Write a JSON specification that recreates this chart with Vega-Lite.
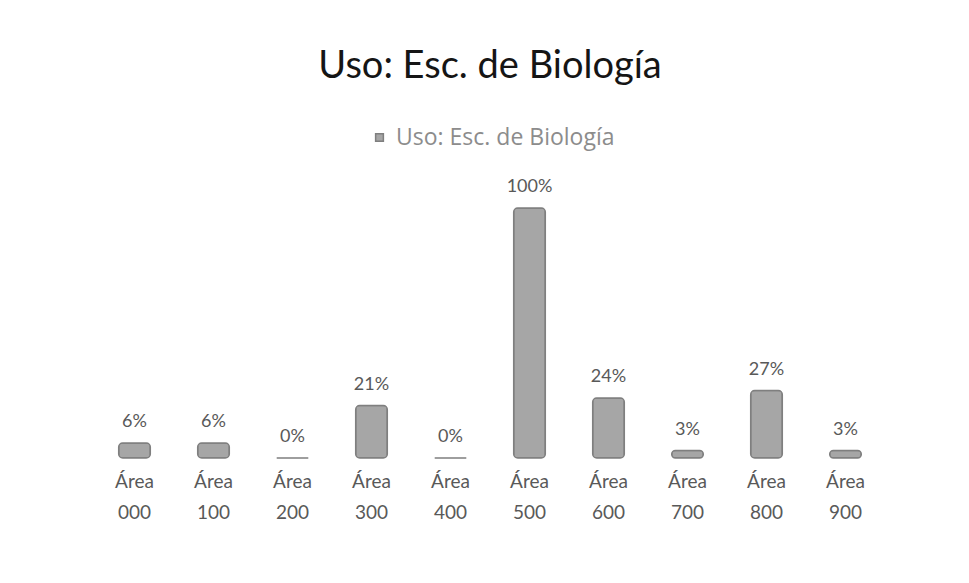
{
  "$schema": "https://vega.github.io/schema/vega-lite/v6.json",
  "autosize": "none",
  "width": 790,
  "height": 250,
  "padding": {"left": 95, "top": 208, "right": 84, "bottom": 125},
  "background": "white",
  "config": {"view": {"stroke": null}, "font": "Lato"},
  "title": {
    "text": "Uso: Esc. de Biología",
    "fontSize": 38,
    "font": "Lato",
    "fontWeight": "normal",
    "color": "#151515",
    "frame": "group",
    "anchor": "middle",
    "offset": 40
  },
  "data": {
    "values": [
      {"area": "Área 000", "valor": 0.06, "serie": "Uso: Esc. de Biología"},
      {"area": "Área 100", "valor": 0.06, "serie": "Uso: Esc. de Biología"},
      {"area": "Área 200", "valor": 0.0, "serie": "Uso: Esc. de Biología"},
      {"area": "Área 300", "valor": 0.21, "serie": "Uso: Esc. de Biología"},
      {"area": "Área 400", "valor": 0.0, "serie": "Uso: Esc. de Biología"},
      {"area": "Área 500", "valor": 1.0, "serie": "Uso: Esc. de Biología"},
      {"area": "Área 600", "valor": 0.24, "serie": "Uso: Esc. de Biología"},
      {"area": "Área 700", "valor": 0.03, "serie": "Uso: Esc. de Biología"},
      {"area": "Área 800", "valor": 0.27, "serie": "Uso: Esc. de Biología"},
      {"area": "Área 900", "valor": 0.03, "serie": "Uso: Esc. de Biología"}
    ]
  },
  "encoding": {
    "x": {
      "field": "area",
      "type": "nominal",
      "sort": null,
      "scale": {"paddingInner": 0.6, "paddingOuter": 0.3},
      "axis": {
        "title": null,
        "domain": false,
        "ticks": false,
        "labelAngle": 0,
        "labelExpr": "split(datum.label, ' ')",
        "labelFontSize": 19,
        "labelColor": "#595959",
        "labelPadding": 14,
        "labelLineHeight": 31,
        "labelFont": "Lato"
      }
    },
    "y": {
      "field": "valor",
      "type": "quantitative",
      "scale": {"domain": [0, 1]},
      "axis": null
    }
  },
  "layer": [
    {
      "mark": {"type": "bar", "stroke": "#7f7f7f", "strokeWidth": 1.5, "cornerRadius": 4},
      "encoding": {
        "color": {
          "field": "serie",
          "type": "nominal",
          "scale": {"range": ["#a6a6a6"]},
          "legend": {
            "title": null,
            "orient": "none",
            "legendX": 273,
            "legendY": -82,
            "symbolType": "square",
            "symbolSize": 60,
            "labelFontSize": 23,
            "labelLimit": 400,
            "labelOffset": 5,
            "labelColor": "#8c8c8c",
            "labelFont": "Open Sans"
          }
        }
      }
    },
    {
      "mark": {"type": "text", "baseline": "bottom", "dy": -12, "fontSize": 18, "color": "#595959", "font": "Lato"},
      "encoding": {
        "text": {"field": "valor", "type": "quantitative", "format": ".0%"}
      }
    }
  ]
}
